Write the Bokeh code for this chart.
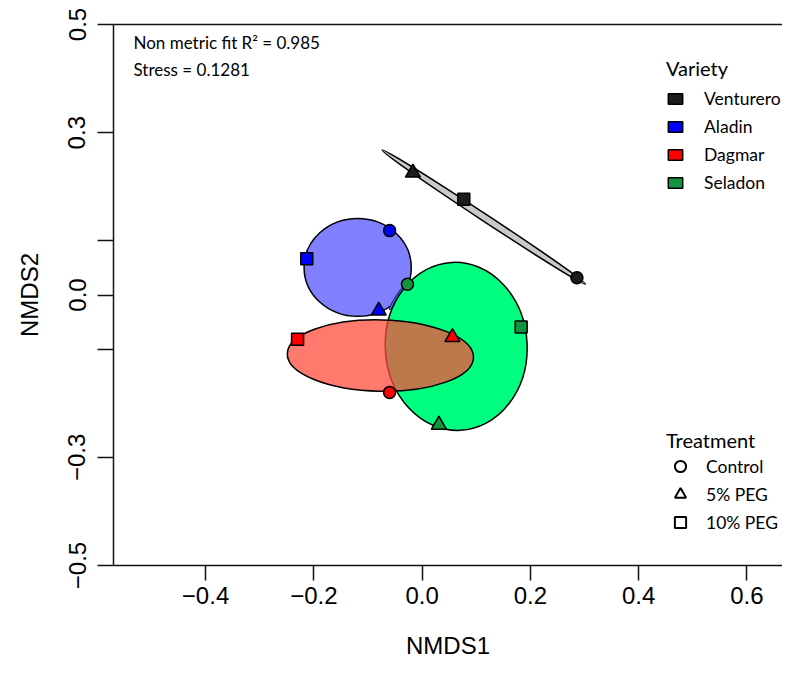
from bokeh.plotting import figure
from bokeh.models import (Range1d, FixedTicker, LinearAxis, Legend, LegendItem,
                          Label, ColumnDataSource)
from bokeh.embed import file_html
from bokeh.resources import INLINE

# ---------------- data ----------------
varieties = ["Venturero", "Aladin", "Dagmar", "Seladon"]
treatments = ["Control", "5% PEG", "10% PEG"]

# NMDS scores, order: Control, 5% PEG, 10% PEG
venturero_x = [0.286, -0.017, 0.077]
venturero_y = [0.032, 0.226, 0.177]
aladin_x = [-0.060, -0.080, -0.213]
aladin_y = [0.119, -0.029, 0.067]
dagmar_x = [-0.060, 0.056, -0.230]
dagmar_y = [-0.180, -0.078, -0.082]
seladon_x = [-0.027, 0.031, 0.183]
seladon_y = [0.020, -0.240, -0.059]

# group ellipses (Venturero, Aladin, Dagmar, Seladon)
ell_x = [0.114, -0.119, -0.077, 0.063]
ell_y = [0.144, 0.051, -0.112, -0.095]
ell_w = [0.450, 0.198, 0.344, 0.262]
ell_h = [0.013, 0.181, 0.132, 0.311]
ell_angle = [-0.583, 0.0, -0.02, 0.05]

# small extra Aladin ellipse segment
extra_x = [-0.046]
extra_y = [-0.005]
extra_w = [0.052]
extra_h = [0.0065]
extra_angle = [1.0]

x_ticks = [-0.4, -0.2, 0.0, 0.2, 0.4, 0.6]
x_tick_labels = ["\u22120.4", "\u22120.2", "0.0", "0.2", "0.4", "0.6"]
y_ticks = [-0.5, -0.3, -0.1, 0.0, 0.1, 0.3, 0.5]
y_tick_labels = ["\u22120.5", "\u22120.3", "", "0.0", "", "0.3", "0.5"]

fit_text = "Non metric fit R\u00b2 = 0.985"
stress_text = "Stress = 0.1281"

# ---------------- styles ----------------
point_colors = ["#1c1c1c", "#0000ff", "#ff0000", "#14933f"]
ellipse_fills = ["#c9c9c9", "#8080ff", "#ff4a38", "#00ff80"]
ellipse_alphas = [1.0, 1.0, 0.74, 1.0]
markers = ["circle", "triangle", "square"]
marker_sizes = [12, 15, 12]

AX_FONT = "Liberation Sans"
LEG_FONT = "Lato"
NAN = float("nan")

p = figure(width=782, height=661,
           x_range=Range1d(-0.570, 0.6657), y_range=Range1d(-0.5, 0.5),
           output_backend="svg", toolbar_location=None,
           min_border_left=113, min_border_right=0,
           min_border_top=24, min_border_bottom=90,
           x_axis_label="NMDS1", y_axis_label="NMDS2")
p.grid.visible = False
p.outline_line_color = None
p.background_fill_color = "white"

for ax in (p.xaxis[0], p.yaxis[0]):
    ax.axis_line_width = 1.5
    ax.axis_line_color = "#111111"
    ax.major_tick_line_width = 1.5
    ax.major_tick_line_color = "#111111"
    ax.minor_tick_line_color = None
    ax.major_tick_in = 0
    ax.major_label_text_font = AX_FONT
    ax.major_label_text_font_size = "24px"
    ax.major_label_text_color = "black"
    ax.axis_label_text_font = AX_FONT
    ax.axis_label_text_font_size = "24px"
    ax.axis_label_text_font_style = "normal"
    ax.axis_label_text_color = "black"

p.xaxis.ticker = FixedTicker(ticks=x_ticks)
p.xaxis.major_label_overrides = {t: l for t, l in zip(x_ticks, x_tick_labels)}
p.xaxis.major_tick_out = 15
p.xaxis.major_label_standoff = 6
p.xaxis.axis_label_standoff = 25

p.yaxis.ticker = FixedTicker(ticks=y_ticks)
p.yaxis.major_label_overrides = {t: l for t, l in zip(y_ticks, y_tick_labels)}
p.yaxis.major_label_orientation = "vertical"
p.yaxis.major_tick_out = 16
p.yaxis.major_label_standoff = 12
p.yaxis.axis_label_standoff = 23

top = LinearAxis(ticker=FixedTicker(ticks=[]), major_label_text_font_size="0px",
                 major_tick_out=0, major_tick_in=0, minor_tick_out=0, minor_tick_in=0,
                 axis_line_width=1.5, axis_line_color="#111111")
p.add_layout(top, "above")

# ---------------- ellipses ----------------
order = [0, 1, 3, 2]  # draw Dagmar last (on top of Seladon)
for i in order:
    p.ellipse(x=[ell_x[i]], y=[ell_y[i]], width=[ell_w[i]], height=[ell_h[i]],
              angle=[ell_angle[i]], fill_color=ellipse_fills[i],
              fill_alpha=ellipse_alphas[i], line_color="black", line_width=1.5)
    if i == 1:
        p.ellipse(x=extra_x, y=extra_y, width=extra_w, height=extra_h,
                  angle=extra_angle, fill_color="#3a7ad8", line_color="#1a2a8a",
                  line_width=1.2)

# ---------------- points ----------------
all_x = [venturero_x, aladin_x, dagmar_x, seladon_x]
all_y = [venturero_y, aladin_y, dagmar_y, seladon_y]
px, py, pm, ps, pc = [], [], [], [], []
for vi in range(len(varieties)):
    for ti in range(len(treatments)):
        px.append(all_x[vi][ti])
        py.append(all_y[vi][ti])
        pm.append(markers[ti])
        ps.append(marker_sizes[ti])
        pc.append(point_colors[vi])
src = ColumnDataSource(dict(x=px, y=py, marker=pm, size=ps, color=pc))
p.scatter(x="x", y="y", marker="marker", size="size", fill_color="color",
          line_color="black", line_width=1.5, source=src)

# ---------------- legends ----------------
var_items = []
for v, c in zip(varieties, point_colors):
    r = p.rect(x=[NAN], y=[NAN], width=0.01, height=0.01, fill_color=c,
               line_color="black", line_width=1.5)
    var_items.append(LegendItem(label=v, renderers=[r]))
leg1 = Legend(items=var_items, title="Variety", location=(553, 372),
              spacing=7, glyph_width=18, glyph_height=13, label_height=20,
              label_standoff=20, title_standoff=8)

tr_items = []
for t, m in zip(treatments, markers):
    r = p.scatter(x=[NAN], y=[NAN], marker=m, size=12, fill_color=None,
                  line_color="black", line_width=2)
    tr_items.append(LegendItem(label=t, renderers=[r]))
leg2 = Legend(items=tr_items, title="Treatment", location=(553, 29),
              spacing=0, glyph_width=28, glyph_height=28, label_height=20,
              label_standoff=12, title_standoff=0)

for lg in (leg1, leg2):
    lg.border_line_color = None
    lg.background_fill_alpha = 0
    lg.padding = 0
    lg.margin = 0
    lg.label_text_font = LEG_FONT
    lg.label_text_font_size = "17.5px"
    lg.label_text_color = "black"
    lg.title_text_font = LEG_FONT
    lg.title_text_font_size = "20px"
    lg.title_text_font_style = "normal"
    lg.title_text_color = "black"
    p.add_layout(lg)

# ---------------- annotations ----------------
p.add_layout(Label(x=20, y=523, x_units="screen", y_units="screen", text=fit_text,
                   text_font=LEG_FONT, text_font_size="17px", text_baseline="middle",
                   text_color="black"))
p.add_layout(Label(x=20, y=496, x_units="screen", y_units="screen", text=stress_text,
                   text_font=LEG_FONT, text_font_size="17px", text_baseline="middle",
                   text_color="black"))

open("out.html", "w").write(file_html(p, INLINE))
